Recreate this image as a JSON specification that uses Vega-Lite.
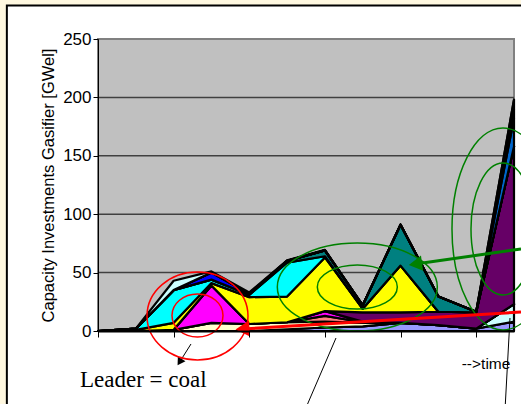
{
  "$schema": "https://vega.github.io/schema/vega-lite/v6.json",
  "width": 416,
  "height": 292,
  "autosize": {"type": "none"},
  "padding": {"left": 98, "top": 39, "right": 7, "bottom": 73},
  "background": "#FFF8E0",
  "config": {"view": {"stroke": null}, "font": "Liberation Sans"},
  "layer": [
    {
      "data": {"values": [{"k": "frame"}]},
      "mark": {"type": "rect", "fill": "#FFFFFF", "stroke": "#000000", "strokeWidth": 2},
      "encoding": {
        "x": {"datum": -2.41, "type": "quantitative", "scale": {"domain": [0, 11], "nice": false, "zero": false}},
        "x2": {"datum": 13},
        "y": {"datum": 278.7, "type": "quantitative", "scale": {"domain": [0, 250], "nice": false}},
        "y2": {"datum": -80}
      }
    },
    {
      "data": {"values": [{"k": "plot"}]},
      "mark": {"type": "rect", "fill": "#C0C0C0", "stroke": "#808080", "strokeWidth": 2},
      "encoding": {
        "x": {"datum": 0, "type": "quantitative"},
        "x2": {"datum": 11},
        "y": {"datum": 0, "type": "quantitative"},
        "y2": {"datum": 250}
      }
    },
    {
      "data": {"values": [{"g": 50}, {"g": 100}, {"g": 150}, {"g": 200}]},
      "mark": {"type": "rule", "color": "#404040", "strokeWidth": 1.5},
      "encoding": {
        "y": {"field": "g", "type": "quantitative"}
      }
    },
    {
      "data": {"values": [
        {"s":"s01","o":1,"t":0,"v":0},{"s":"s01","o":1,"t":1,"v":0},{"s":"s01","o":1,"t":2,"v":0},{"s":"s01","o":1,"t":3,"v":0},{"s":"s01","o":1,"t":4,"v":0},{"s":"s01","o":1,"t":5,"v":1.5},{"s":"s01","o":1,"t":6,"v":3},{"s":"s01","o":1,"t":7,"v":4},{"s":"s01","o":1,"t":8,"v":7},{"s":"s01","o":1,"t":9,"v":5},{"s":"s01","o":1,"t":10,"v":2},{"s":"s01","o":1,"t":11,"v":8},
        {"s":"s02","o":2,"t":0,"v":0},{"s":"s02","o":2,"t":1,"v":0},{"s":"s02","o":2,"t":2,"v":0},{"s":"s02","o":2,"t":3,"v":0},{"s":"s02","o":2,"t":4,"v":0},{"s":"s02","o":2,"t":5,"v":0},{"s":"s02","o":2,"t":6,"v":0},{"s":"s02","o":2,"t":7,"v":0},{"s":"s02","o":2,"t":8,"v":0},{"s":"s02","o":2,"t":9,"v":0},{"s":"s02","o":2,"t":10,"v":0},{"s":"s02","o":2,"t":11,"v":15},
        {"s":"s03","o":3,"t":0,"v":0},{"s":"s03","o":3,"t":1,"v":0},{"s":"s03","o":3,"t":2,"v":1},{"s":"s03","o":3,"t":3,"v":7},{"s":"s03","o":3,"t":4,"v":6},{"s":"s03","o":3,"t":5,"v":6},{"s":"s03","o":3,"t":6,"v":5},{"s":"s03","o":3,"t":7,"v":3},{"s":"s03","o":3,"t":8,"v":0},{"s":"s03","o":3,"t":9,"v":0},{"s":"s03","o":3,"t":10,"v":0},{"s":"s03","o":3,"t":11,"v":0},
        {"s":"s04","o":4,"t":0,"v":0},{"s":"s04","o":4,"t":1,"v":0},{"s":"s04","o":4,"t":2,"v":0},{"s":"s04","o":4,"t":3,"v":0},{"s":"s04","o":4,"t":4,"v":0},{"s":"s04","o":4,"t":5,"v":0},{"s":"s04","o":4,"t":6,"v":5},{"s":"s04","o":4,"t":7,"v":0.5},{"s":"s04","o":4,"t":8,"v":0},{"s":"s04","o":4,"t":9,"v":0},{"s":"s04","o":4,"t":10,"v":0},{"s":"s04","o":4,"t":11,"v":0},
        {"s":"s05","o":5,"t":0,"v":0},{"s":"s05","o":5,"t":1,"v":0},{"s":"s05","o":5,"t":2,"v":0},{"s":"s05","o":5,"t":3,"v":32},{"s":"s05","o":5,"t":4,"v":0},{"s":"s05","o":5,"t":5,"v":0},{"s":"s05","o":5,"t":6,"v":4},{"s":"s05","o":5,"t":7,"v":0.5},{"s":"s05","o":5,"t":8,"v":0},{"s":"s05","o":5,"t":9,"v":0},{"s":"s05","o":5,"t":10,"v":0},{"s":"s05","o":5,"t":11,"v":0},
        {"s":"s06","o":6,"t":0,"v":0},{"s":"s06","o":6,"t":1,"v":0},{"s":"s06","o":6,"t":2,"v":0},{"s":"s06","o":6,"t":3,"v":0},{"s":"s06","o":6,"t":4,"v":0},{"s":"s06","o":6,"t":5,"v":0},{"s":"s06","o":6,"t":6,"v":0},{"s":"s06","o":6,"t":7,"v":8},{"s":"s06","o":6,"t":8,"v":9},{"s":"s06","o":6,"t":9,"v":11.5},{"s":"s06","o":6,"t":10,"v":14},{"s":"s06","o":6,"t":11,"v":135},
        {"s":"s07","o":7,"t":0,"v":0},{"s":"s07","o":7,"t":1,"v":1},{"s":"s07","o":7,"t":2,"v":6},{"s":"s07","o":7,"t":3,"v":2},{"s":"s07","o":7,"t":4,"v":23},{"s":"s07","o":7,"t":5,"v":22},{"s":"s07","o":7,"t":6,"v":46},{"s":"s07","o":7,"t":7,"v":3},{"s":"s07","o":7,"t":8,"v":40},{"s":"s07","o":7,"t":9,"v":0},{"s":"s07","o":7,"t":10,"v":0},{"s":"s07","o":7,"t":11,"v":0},
        {"s":"s08","o":8,"t":0,"v":0},{"s":"s08","o":8,"t":1,"v":1},{"s":"s08","o":8,"t":2,"v":28},{"s":"s08","o":8,"t":3,"v":3},{"s":"s08","o":8,"t":4,"v":2},{"s":"s08","o":8,"t":5,"v":29},{"s":"s08","o":8,"t":6,"v":1},{"s":"s08","o":8,"t":7,"v":0},{"s":"s08","o":8,"t":8,"v":0},{"s":"s08","o":8,"t":9,"v":0},{"s":"s08","o":8,"t":10,"v":0},{"s":"s08","o":8,"t":11,"v":0},
        {"s":"s09","o":9,"t":0,"v":0},{"s":"s09","o":9,"t":1,"v":0},{"s":"s09","o":9,"t":2,"v":0},{"s":"s09","o":9,"t":3,"v":0},{"s":"s09","o":9,"t":4,"v":0},{"s":"s09","o":9,"t":5,"v":1.5},{"s":"s09","o":9,"t":6,"v":5},{"s":"s09","o":9,"t":7,"v":3},{"s":"s09","o":9,"t":8,"v":35},{"s":"s09","o":9,"t":9,"v":13},{"s":"s09","o":9,"t":10,"v":0.5},{"s":"s09","o":9,"t":11,"v":0},
        {"s":"s10","o":10,"t":0,"v":0},{"s":"s10","o":10,"t":1,"v":0},{"s":"s10","o":10,"t":2,"v":0},{"s":"s10","o":10,"t":3,"v":6},{"s":"s10","o":10,"t":4,"v":1},{"s":"s10","o":10,"t":5,"v":0},{"s":"s10","o":10,"t":6,"v":0},{"s":"s10","o":10,"t":7,"v":0},{"s":"s10","o":10,"t":8,"v":0},{"s":"s10","o":10,"t":9,"v":0},{"s":"s10","o":10,"t":10,"v":0},{"s":"s10","o":10,"t":11,"v":0},
        {"s":"s11","o":11,"t":0,"v":0},{"s":"s11","o":11,"t":1,"v":0},{"s":"s11","o":11,"t":2,"v":0},{"s":"s11","o":11,"t":3,"v":0},{"s":"s11","o":11,"t":4,"v":0},{"s":"s11","o":11,"t":5,"v":0},{"s":"s11","o":11,"t":6,"v":0},{"s":"s11","o":11,"t":7,"v":0},{"s":"s11","o":11,"t":8,"v":0},{"s":"s11","o":11,"t":9,"v":0},{"s":"s11","o":11,"t":10,"v":0},{"s":"s11","o":11,"t":11,"v":24},
        {"s":"s12","o":12,"t":0,"v":0},{"s":"s12","o":12,"t":1,"v":0},{"s":"s12","o":12,"t":2,"v":0},{"s":"s12","o":12,"t":3,"v":0},{"s":"s12","o":12,"t":4,"v":0},{"s":"s12","o":12,"t":5,"v":0},{"s":"s12","o":12,"t":6,"v":0},{"s":"s12","o":12,"t":7,"v":0},{"s":"s12","o":12,"t":8,"v":0},{"s":"s12","o":12,"t":9,"v":0},{"s":"s12","o":12,"t":10,"v":0},{"s":"s12","o":12,"t":11,"v":8},
        {"s":"s13","o":13,"t":0,"v":0},{"s":"s13","o":13,"t":1,"v":0},{"s":"s13","o":13,"t":2,"v":0},{"s":"s13","o":13,"t":3,"v":0},{"s":"s13","o":13,"t":4,"v":0},{"s":"s13","o":13,"t":5,"v":0},{"s":"s13","o":13,"t":6,"v":0},{"s":"s13","o":13,"t":7,"v":0},{"s":"s13","o":13,"t":8,"v":0},{"s":"s13","o":13,"t":9,"v":0},{"s":"s13","o":13,"t":10,"v":0},{"s":"s13","o":13,"t":11,"v":8},
        {"s":"s14","o":14,"t":0,"v":0},{"s":"s14","o":14,"t":1,"v":0},{"s":"s14","o":14,"t":2,"v":8},{"s":"s14","o":14,"t":3,"v":1},{"s":"s14","o":14,"t":4,"v":1},{"s":"s14","o":14,"t":5,"v":0.5},{"s":"s14","o":14,"t":6,"v":0.5},{"s":"s14","o":14,"t":7,"v":0},{"s":"s14","o":14,"t":8,"v":0},{"s":"s14","o":14,"t":9,"v":0},{"s":"s14","o":14,"t":10,"v":0},{"s":"s14","o":14,"t":11,"v":0}
      ]},
      "mark": {"type": "area", "stroke": "#000000", "strokeWidth": 2.2, "strokeJoin": "round", "opacity": 1},
      "encoding": {
        "x": {"field": "t", "type": "quantitative",
          "axis": {"title": null, "values": [0,1,2,3,4,5,6,7,8,9,10,11], "labels": false, "grid": false, "domainColor": "#000000", "domainWidth": 2, "tickColor": "#000000", "tickWidth": 1, "tickSize": 6, "zindex": 1}},
        "y": {"field": "v", "type": "quantitative", "stack": "zero",
          "axis": {"title": "Capacity  Investments Gasifier [GWel]", "values": [0,50,100,150,200,250], "grid": false, "domainColor": "#000000", "domainWidth": 1, "tickColor": "#000000", "tickWidth": 1, "tickSize": 5, "labelPadding": 2, "labelFont": "Liberation Sans", "labelFontSize": 17, "labelColor": "#000000", "labelFlush": false, "labelOverlap": false, "titleFont": "Liberation Sans", "titleFontSize": 16.5, "titleFontWeight": "normal", "titleColor": "#000000", "titlePadding": 6, "zindex": 1}},
        "color": {"field": "s", "type": "nominal", "legend": null,
          "scale": {"domain": ["s01","s02","s03","s04","s05","s06","s07","s08","s09","s10","s11","s12","s13","s14"],
                    "range": ["#9999FF","#CCFFFF","#FFFFCC","#FF8080","#FF00FF","#660066","#FFFF00","#00FFFF","#008080","#0000FF","#0066CC","#FFFFFF","#000080","#CCFFFF"]}},
        "order": {"field": "o", "type": "quantitative"}
      }
    },
    {
      "data": {"values": [
        {"x1": 6.293, "y1": -6.0, "x2": 5.474, "y2": -67.6},
        {"x1": 10.894, "y1": 11.13, "x2": 10.762, "y2": -67.6},
        {"x1": 2.459, "y1": -11.13, "x2": 2.158, "y2": -26.6}
      ]},
      "mark": {"type": "rule", "color": "#000000", "strokeWidth": 1},
      "encoding": {
        "x": {"field": "x1", "type": "quantitative"},
        "x2": {"field": "x2"},
        "y": {"field": "y1", "type": "quantitative"},
        "y2": {"field": "y2"}
      }
    },
    {
      "data": {"values": [{"x": 2.158, "y": -26.6}]},
      "mark": {"type": "point", "shape": "triangle-right", "angle": 122, "size": 80, "filled": true, "color": "#000000", "opacity": 1},
      "encoding": {
        "x": {"field": "x", "type": "quantitative"},
        "y": {"field": "y", "type": "quantitative"}
      }
    },
    {
      "data": {"values": [{"x": 2.631, "y": 12.84}]},
      "mark": {"type": "point", "shape": "M-1,0A1,0.871,0,1,0,1,0A1,0.871,0,1,0,-1,0Z", "size": 10201, "filled": false, "color": "#FF0000", "strokeWidth": 1.5, "opacity": 1},
      "encoding": {
        "x": {"field": "x", "type": "quantitative"},
        "y": {"field": "y", "type": "quantitative"}
      }
    },
    {
      "data": {"values": [{"x": 2.631, "y": 13.27}]},
      "mark": {"type": "point", "shape": "M-1,0A1,0.843,0,1,0,1,0A1,0.843,0,1,0,-1,0Z", "size": 2601, "filled": false, "color": "#FF0000", "strokeWidth": 1.5, "opacity": 1},
      "encoding": {
        "x": {"field": "x", "type": "quantitative"},
        "y": {"field": "y", "type": "quantitative"}
      }
    },
    {
      "data": {"values": [{"x": 6.857, "y": 37.67}]},
      "mark": {"type": "point", "shape": "M-1,0A1,0.55,0,1,0,1,0A1,0.55,0,1,0,-1,0Z", "size": 25600, "filled": false, "color": "#008000", "strokeWidth": 1.5, "opacity": 1},
      "encoding": {
        "x": {"field": "x", "type": "quantitative"},
        "y": {"field": "y", "type": "quantitative"}
      }
    },
    {
      "data": {"values": [{"x": 6.857, "y": 37.67}]},
      "mark": {"type": "point", "shape": "M-1,0A1,0.55,0,1,0,1,0A1,0.55,0,1,0,-1,0Z", "size": 6400, "filled": false, "color": "#008000", "strokeWidth": 1.5, "opacity": 1},
      "encoding": {
        "x": {"field": "x", "type": "quantitative"},
        "y": {"field": "y", "type": "quantitative"}
      }
    },
    {
      "data": {"values": [{"x": 10.709, "y": 87.33}]},
      "mark": {"type": "point", "shape": "M-0.505,0A0.505,1,0,1,0,0.505,0A0.505,1,0,1,0,-0.505,0Z", "size": 40804, "filled": false, "color": "#008000", "strokeWidth": 1.5, "opacity": 1},
      "encoding": {
        "x": {"field": "x", "type": "quantitative"},
        "y": {"field": "y", "type": "quantitative"}
      }
    },
    {
      "data": {"values": [{"x": 10.709, "y": 87.33}]},
      "mark": {"type": "point", "shape": "M-0.485,0A0.485,1,0,1,0,0.485,0A0.485,1,0,1,0,-0.485,0Z", "size": 17424, "filled": false, "color": "#008000", "strokeWidth": 1.5, "opacity": 1},
      "encoding": {
        "x": {"field": "x", "type": "quantitative"},
        "y": {"field": "y", "type": "quantitative"}
      }
    },
    {
      "data": {"values": [{"x1": 11.185, "y1": 16.27, "x2": 3.821, "y2": 1.71}]},
      "mark": {"type": "rule", "color": "#FF0000", "strokeWidth": 3},
      "encoding": {
        "x": {"field": "x1", "type": "quantitative"},
        "x2": {"field": "x2"},
        "y": {"field": "y1", "type": "quantitative"},
        "y2": {"field": "y2"}
      }
    },
    {
      "data": {"values": [{"x": 3.821, "y": 1.71}]},
      "mark": {"type": "point", "shape": "triangle-right", "angle": 176.5, "size": 260, "filled": true, "color": "#FF0000", "opacity": 1},
      "encoding": {
        "x": {"field": "x", "type": "quantitative"},
        "y": {"field": "y", "type": "quantitative"}
      }
    },
    {
      "data": {"values": [{"x1": 11.185, "y1": 70.2, "x2": 8.393, "y2": 57.36}]},
      "mark": {"type": "rule", "color": "#008000", "strokeWidth": 3},
      "encoding": {
        "x": {"field": "x1", "type": "quantitative"},
        "x2": {"field": "x2"},
        "y": {"field": "y1", "type": "quantitative"},
        "y2": {"field": "y2"}
      }
    },
    {
      "data": {"values": [{"x": 8.393, "y": 57.36}]},
      "mark": {"type": "point", "shape": "triangle-right", "angle": 172, "size": 240, "filled": true, "color": "#008000", "opacity": 1},
      "encoding": {
        "x": {"field": "x", "type": "quantitative"},
        "y": {"field": "y", "type": "quantitative"}
      }
    },
    {
      "data": {"values": [{"x": -0.476, "y": -47.95, "label": "Leader = coal"}]},
      "mark": {"type": "text", "font": "Liberation Serif", "fontSize": 23, "align": "left", "baseline": "alphabetic", "color": "#000000"},
      "encoding": {
        "x": {"field": "x", "type": "quantitative"},
        "y": {"field": "y", "type": "quantitative"},
        "text": {"field": "label"}
      }
    },
    {
      "data": {"values": [{"x": 9.617, "y": -32.53, "label": "-->time"}]},
      "mark": {"type": "text", "font": "Liberation Sans", "fontSize": 15.5, "align": "left", "baseline": "alphabetic", "color": "#000000"},
      "encoding": {
        "x": {"field": "x", "type": "quantitative"},
        "y": {"field": "y", "type": "quantitative"},
        "text": {"field": "label"}
      }
    }
  ]
}
